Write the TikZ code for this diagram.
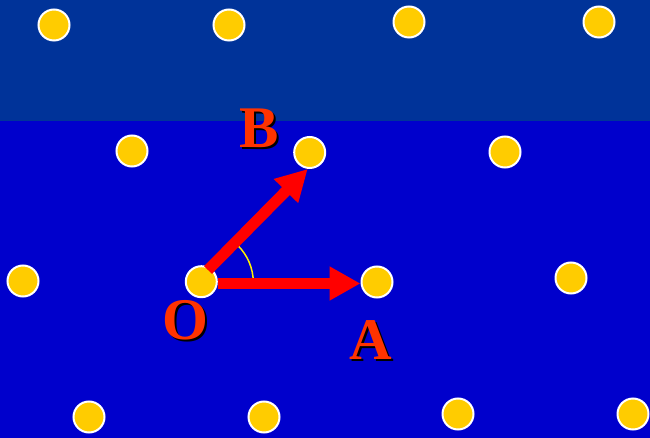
\documentclass[tikz,border=0pt]{standalone}
\usepackage{fontspec}
\setmainfont{Liberation Serif}
\usetikzlibrary{arrows.meta,calc}
\definecolor{topblue}{HTML}{003399}
\definecolor{lowblue}{HTML}{0000CC}
\definecolor{dotyellow}{HTML}{FFCC00}
\definecolor{lblred}{HTML}{FF3300}
\newcommand{\shadowed}[1]{\rlap{\hspace{2pt}\raisebox{-2pt}{\color{black}#1}}{\color{lblred}#1}}
\begin{document}
\begin{tikzpicture}[x=1pt,y=-1pt,
  atom/.style={circle,minimum size=31pt,inner sep=0pt,fill=dotyellow,draw=white,line width=2pt},
  lbl/.style={inner sep=0pt,font=\bfseries\fontsize{59}{59}\selectfont},
  vec/.style={draw=red,line width=11pt,-{Triangle[length=31pt,width=32pt]}},
  anglearc/.style={draw=yellow,line width=1.5pt}]
\useasboundingbox (0,0) rectangle (650,438);
\fill[lowblue] (0,0) rectangle (650,438);
\fill[topblue] (0,0) rectangle (650,121);
% atoms
\node[atom] (r1a) at (54,25) {};
\node[atom] (r1b) at (229,25) {};
\node[atom] (r1c) at (409,22) {};
\node[atom] (r1d) at (599,22) {};
\node[atom] (r2a) at (132,151) {};
\node[atom] (B) at (309.7,152.5) {};
\node[atom] (r2c) at (505,152) {};
\node[atom] (r3a) at (23,281) {};
\node[atom] (r3d) at (571,278) {};
\node[atom] (r4a) at (89,417) {};
\node[atom] (r4b) at (264,417) {};
\node[atom] (r4c) at (458,414) {};
\node[atom] (r4d) at (633,414) {};
% angle arc
\coordinate (Oc) at (201.3,282.5);
\draw[anglearc] ($(Oc)+(52,0)$) arc[start angle=0,end angle=-46,radius=52];
\node[atom] (O) at (201.3,281.7) {};
\node[atom] (A) at (377,282) {};
% vectors
\coordinate (Bs) at (208,270);
\coordinate (Bt) at (307.7,169);
\draw[vec] (O.east |- 0,283.5) -- (A.west |- 0,283.5);
\draw[vec] (Bs) -- (Bt);
% labels
\node[lbl] (Blab) at (259,129) {\shadowed{B}};
\node[lbl] (Olab) at (185,321) {\shadowed{O}};
\node[lbl] (Alab) at (371,341) {\shadowed{A}};
\end{tikzpicture}
\end{document}
